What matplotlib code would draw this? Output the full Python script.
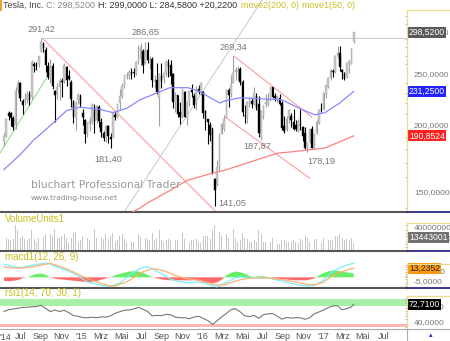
import matplotlib
matplotlib.use('Agg')
import matplotlib.pyplot as plt
import matplotlib.dates as mdates
import matplotlib.transforms as mtrans
from matplotlib.lines import Line2D
from matplotlib.patches import Rectangle
from matplotlib.ticker import FixedLocator, NullFormatter, FuncFormatter
import numpy as np
import pandas as pd

plt.rcParams['font.family'] = ['Liberation Sans', 'DejaVu Sans']

# ---------------- data ----------------
first_week = '2014-05-12'
opens = [187, 191, 210, 210.3, 206, 200, 233, 240, 222, 222, 223, 228, 226, 260, 259, 260,
         275, 283, 276, 258, 246, 258, 231, 230, 236, 242, 242, 257, 247, 241, 222, 206,
         223, 226, 210, 204, 193, 201, 203, 216, 204, 216, 202, 193, 190, 199, 190, 190,
         209, 207, 220, 227, 237, 247, 247, 251, 251, 249, 263, 266, 275, 262, 276, 265,
         266, 241, 243, 225, 247, 245, 251, 262, 259, 249, 221, 227, 211, 208, 230, 206,
         222, 232, 226, 220, 233, 231, 230, 212, 205, 200, 197, 158, 155, 168, 192, 197,
         206, 232, 229, 240, 251, 252, 254, 241, 208, 207, 221, 222, 219, 226, 219, 190,
         208, 219, 219, 225, 235, 226, 224, 224, 220, 199, 196, 206, 208, 202, 200, 196,
         201, 198, 193, 182, 186, 196, 182, 193, 202, 214, 214, 229, 236, 245, 252, 252,
         270, 273, 253, 250, 246, 262, 260, 286.9]
highs = [193, 206, 212.5, 212, 208, 236, 243, 241, 224, 230, 232, 232, 265, 263, 263, 270,
         291.42, 286, 280, 263, 266, 262, 233, 240, 245, 245, 261, 258, 254, 243, 223, 222,
         230, 229, 214, 205, 203, 207, 220, 219, 218, 218, 206, 195, 200, 200, 193, 211,
         212, 219, 234, 240, 248, 252, 254, 256, 256, 264, 283, 285, 278, 286.65, 286, 270,
         268, 248, 262, 250, 262, 251, 265, 266, 265, 250, 231, 228, 221, 235, 232, 222,
         232, 239, 230, 237, 238, 241, 232, 213, 205, 203, 197, 159, 172, 193, 202, 209,
         234, 235, 248, 269.34, 257, 258, 257, 243, 218, 222, 226, 225, 236, 230, 227, 213,
         218, 229, 230, 237, 236, 230, 228, 229, 222, 208, 208, 214, 211, 214, 204, 205,
         214, 199, 198, 186, 197, 199, 193, 204, 214, 220, 230, 238, 246, 255, 255, 271,
         281, 281, 255, 251, 262, 265, 279, 299]
lows = [183, 190, 204.5, 199, 196, 197, 230, 222, 210, 218, 220, 218, 224, 252, 254, 257,
        274, 274, 252, 244, 240, 234, 203, 224, 223, 226, 240, 237, 243, 216, 202, 196,
        219, 216, 200, 185, 190, 195, 201, 193, 202, 198, 190, 187, 186, 185, 181.4, 189,
        204, 206, 213, 225, 235, 244, 244, 244, 246, 248, 260, 258, 250, 260, 262, 255,
        236, 235, 229, 199.3, 235, 240, 247, 246, 239, 215, 212, 207, 201, 206, 207, 200,
        217, 226, 215, 213, 229, 228, 206, 196, 184, 187, 162, 141.05, 154, 164, 192, 195,
        206, 216, 226, 240, 243, 243, 238, 208, 202, 202, 216, 215, 218, 213, 190, 187.87,
        205, 216, 217, 222, 225, 222, 221, 218, 196, 193, 195, 202, 198, 196, 195, 194,
        196, 187, 180, 178.19, 185, 181, 180, 192, 201, 212, 213, 225, 235, 243, 246, 250,
        267, 253, 244, 243, 245, 250, 260, 284.58]
closes = [190.2, 205.2, 207.8, 206.4, 198.4, 231, 240, 224.6, 218, 223.6, 228.3, 223.3, 262, 258.3, 258, 269.7,
          286, 279, 259.3, 246.6, 255.2, 236.9, 227.5, 235.2, 241.7, 241.2, 258.7, 242.8, 244.5, 223.7, 207, 219.3,
          227.8, 219.3, 206.7, 192.7, 201.2, 203.6, 217.4, 203.8, 217.1, 203.3, 193.9, 188.7, 199, 190.6, 187.9, 210.9,
          206.8, 218.4, 226, 236.1, 248, 247.7, 250.8, 249.1, 250.7, 262.5, 268, 280, 259, 274.7, 265.4, 266.2,
          242.5, 242.5, 230.8, 248.5, 241.9, 250.2, 262.3, 256.9, 247.6, 220.7, 227, 210.1, 206.9, 232.4, 207.5, 220,
          231.6, 230.4, 218, 230.5, 230.6, 240, 211, 204.9, 202.6, 191.2, 162.6, 151, 166.6, 190.3, 201, 205.2,
          232.7, 227.8, 237.6, 250.1, 253.7, 253.8, 240.8, 211.5, 207.6, 220.3, 223, 218.9, 229.4, 215.5, 193.2, 212.3,
          216.8, 220.4, 222.3, 234.8, 225.6, 224.9, 225, 219, 197.8, 194.5, 205.4, 213.4, 204, 196.6, 196.5, 202.2,
          199.8, 190.8, 181.3, 185, 196.7, 181.5, 192.2, 202.5, 213.3, 213.7, 229, 237.8, 244.7, 252.9, 251.3, 269.2,
          272.2, 257, 251.6, 243.7, 261.5, 263.2, 278.3, 298.52]
volumes_m = [30, 22, 20, 18, 20, 45, 35, 22, 25, 20, 18, 22, 35, 20, 15, 22,
             35, 25, 28, 25, 28, 25, 38, 22, 22, 25, 28, 22, 12, 22, 30, 32,
             15, 18, 25, 35, 22, 18, 22, 38, 22, 22, 22, 20, 28, 20, 25, 30,
             15, 18, 25, 28, 20, 15, 15, 15, 15, 20, 28, 25, 25, 22, 20, 18,
             30, 18, 22, 35, 18, 15, 18, 20, 18, 30, 18, 18, 18, 30, 20, 18,
             12, 18, 18, 20, 15, 12, 25, 25, 25, 20, 35, 45, 28, 32, 25, 20,
             28, 22, 35, 38, 22, 15, 18, 30, 22, 20, 15, 15, 18, 15, 35, 28,
             15, 15, 12, 15, 22, 12, 10, 10, 18, 18, 15, 15, 15, 18, 15, 12,
             20, 18, 25, 22, 15, 20, 20, 20, 18, 12, 22, 18, 18, 18, 18, 25,
             25, 28, 22, 18, 20, 18, 22, 13.443001]

ma50_dates = ['2014-05-12', '2014-06-30', '2014-08-08', '2014-09-19', '2014-11-18', '2014-12-27',
              '2015-02-26', '2015-04-06', '2015-05-18', '2015-06-27', '2015-09-25', '2015-11-19',
              '2015-12-25', '2016-01-15', '2016-02-23', '2016-03-10', '2016-04-24', '2016-06-24',
              '2016-08-29', '2016-10-31', '2016-12-07', '2017-01-06', '2017-02-20', '2017-04-03']
ma50_values = [165, 176, 187, 197, 213, 216, 214, 211, 215, 223, 235, 235,
               231, 227, 220, 222, 225, 224, 223, 213.5, 209, 211, 220, 231.25]
ma200_dates = ['2015-06-03', '2015-06-27', '2015-07-18', '2015-09-25', '2015-11-19', '2016-02-02',
               '2016-03-10', '2016-08-17', '2016-09-22', '2017-01-06', '2017-04-03']
ma200_values = [137.1, 139.8, 142.6, 150.7, 157.7, 162.5, 164.6, 177.2, 178, 181.1, 190.8524]

# indicator samples every second week (plus last week)
macd_values = [19.3, 17.6, 16.0, 14.5, 14.5, 16.1, 17.7, 18.9, 19.8, 21.2, 19.7, 16.6, 14.0, 11.3, 8.6, 5.9,
               2.2, -2.3, -6.6, -8.4, -10.0, -11.6, -12.8, -13.5, -11.0, -8.5, -3.2, 2.2, 7.2, 12.0, 14.4, 15.5,
               12.3, 8.8, 5.1, 1.5, -2.6, -4.8, -6.2, -7.6, -8.1, -7.4, -6.7, -8.0, -10.2, -12.3, -14.2, -10.8,
               -7.5, -4.1, -0.8, 0.6, -0.1, -0.7, -1.0, -1.0, -1.0, -1.0, -2.5, -4.1, -5.6, -7.1, -8.9, -10.5,
               -11.7, -12.3, -12.8, -11.3, -8.4, -4.1, 2.8, 8.9, 12.2, 15.7, 17.8, 20.0, 20.6]
signal_values = [15.1, 14.6, 14.0, 13.5, 13.7, 14.5, 15.4, 16.6, 18.0, 19.3, 20.5, 18.3, 16.0, 13.6, 11.0, 7.7,
                 4.4, 1.1, -1.4, -4.0, -6.5, -9.0, -11.0, -12.8, -12.7, -10.3, -7.9, -4.7, -0.3, 4.0, 8.2, 10.5,
                 12.8, 11.9, 10.3, 8.5, 5.6, 2.7, 0.7, -1.4, -2.5, -3.6, -4.7, -6.2, -7.9, -9.6, -11.3, -11.3,
                 -10.5, -7.9, -5.3, -3.5, -2.5, -1.5, -1.0, -1.0, -1.0, -1.0, -1.8, -2.6, -3.4, -4.4, -5.7, -7.0,
                 -8.4, -9.8, -10.9, -11.2, -9.4, -7.1, -2.0, 2.3, 5.9, 8.5, 10.7, 12.7, 13.2352]
hist_values = [-5.1, -5.9, -5.1, -4.0, -1.3, 0.0, 2.5, 4.8, 5.6, 3.8, -0.2, -2.1, -2.9, -3.5, -4.3, -4.9,
               -5.6, -6.4, -7.2, -6.5, -5.3, -3.6, -1.7, 0.3, 2.9, 5.0, 6.8, 8.5, 8.8, 8.7, 6.8, 3.5,
               0.4, -1.6, -3.1, -3.8, -4.4, -4.4, -4.4, -4.4, -4.4, -3.8, -3.7, -6.0, -7.8, -8.4, -7.5, -3.5,
               3.2, 6.6, 8.4, 7.5, 5.2, 1.9, 0.5, 1.5, 1.5, 0.6, -0.8, -1.8, -2.5, -3.2, -3.8, -4.4,
               -4.4, -4.4, -3.5, -1.6, 2.9, 6.5, 8.7, 10.1, 9.3, 8.4, 7.3, 6.3, 5.9]
rsi_values = [59.5, 62.5, 63.9, 65.2, 67, 67.2, 68, 68.4, 70.8, 65, 59, 62, 59.2, 61.5, 57, 51.5,
              50.3, 48, 47.5, 48.5, 47.5, 49.2, 48.8, 51, 56, 58.8, 61.6, 62, 64, 67.1, 63.6, 59.3,
              51, 51.9, 51.4, 54, 53, 48.6, 47.7, 47.5, 45.7, 48.8, 50.4, 46.3, 42.3, 35, 41.7, 49,
              55.6, 62.6, 64.5, 58.5, 51, 49.6, 52, 46.5, 53.2, 54.9, 55.4, 50.4, 45, 48.1, 46.8, 47.7,
              47.5, 44.7, 47.6, 55, 58.3, 62.1, 66.4, 69.9, 69.8, 62.5, 64.5, 67.8, 72.71]

trend_red_dates = [('2014-09-04', '2016-02-14'), ('2016-04-06', '2016-11-27'), ('2016-03-10', '2016-11-21')]
trend_red_prices = [(291.42, 137.0), (269.34, 207.1), (207.1, 159.0)]
trend_green_dates = ('2014-04-30', '2014-09-19')
trend_green_prices = (177.2, 246.1)
trend_gray_dates = ('2015-05-09', '2016-06-30')
trend_gray_prices = (137.0, 343.0)
resistance_date = '2014-09-04'
resistance_price = 291.42

peak_labels = [291.42, 286.65, 269.34]
trough_labels = [181.40, 141.05, 187.87, 178.19]

month_ticks = ['2014-07-01', '2014-09-01', '2014-11-01', '2015-01-01', '2015-03-01', '2015-05-01',
               '2015-07-01', '2015-09-01', '2015-11-01', '2016-01-01', '2016-03-01', '2016-05-01',
               '2016-07-01', '2016-09-01', '2016-11-01', '2017-01-01', '2017-03-01', '2017-05-01',
               '2017-07-01']
month_labels = ['Jul', 'Sep', 'Nov', "'15", 'Mrz', 'Mai', 'Jul', 'Sep', 'Nov', "'16", 'Mrz', 'Mai',
                'Jul', 'Sep', 'Nov', "'17", 'Mrz', 'Mai', 'Jul']

title_parts = [('Tesla, Inc.', '#444444'), ('C: 298,5200', '#888888'),
               ('H: 299,0000 L: 284,5800 +20,2200', '#333333'),
               ('move2(200, 0)', '#c8c020'), ('move1(50, 0)', '#c8c020')]

# ---------------- figure ----------------
W, H = 450, 341
fig = plt.figure(figsize=(W / 100, H / 100), dpi=100)
fig.patch.set_facecolor('white')


def ax_px(x0, y0, x1, y1, **kw):
    return fig.add_axes([x0 / W, 1 - y1 / H, (x1 - x0) / W, (y1 - y0) / H], **kw)


def fline(x0, y0, x1, y1, **kw):
    fig.add_artist(Line2D([x0 / W, x1 / W], [1 - y0 / H, 1 - y1 / H], transform=fig.transFigure, **kw))


ax = ax_px(0, 0, 407, 212)
axv = ax_px(0, 213, 407, 251, sharex=ax)
axm = ax_px(0, 252, 407, 288, sharex=ax)
axr = ax_px(0, 289, 407, 329, sharex=ax)

weeks = pd.date_range(first_week, periods=len(closes), freq='7D')
xd = mdates.date2num(weeks)
o = np.array(opens, float); h = np.array(highs, float)
l = np.array(lows, float); c = np.array(closes, float)
ind_x = np.concatenate([xd[::2], xd[-1:]])

x_left = mdates.date2num(pd.Timestamp('2014-04-30'))
x_right = mdates.date2num(pd.Timestamp('2017-09-11'))

YEL = '#eedc8a'
GRAYTXT = '#777777'
OLIVE = '#c8c020'
TICK_FS = 6.0
TICK_PAD = 5

# ---- main price panel ----
ax.set_yscale('log')
ax.set_ylim(137.37, 343.2)
ax.set_xlim(x_left, x_right)

up = c >= o
dn = ~up
ax.vlines(xd[up], l[up], h[up], color='#a0a0a0', lw=0.8, zorder=3)
ax.vlines(xd[dn], l[dn], h[dn], color='#000000', lw=0.8, zorder=3)
ax.bar(xd[up], np.abs(c - o)[up] + 0.3, bottom=np.minimum(o, c)[up], width=4.8,
       color='#c8c8c8', edgecolor='#a8a8a8', lw=0.3, zorder=4)
ax.bar(xd[dn], np.abs(c - o)[dn] + 0.3, bottom=np.minimum(o, c)[dn], width=4.8,
       color='#000000', edgecolor='#000000', lw=0.3, zorder=4)

ax.plot(mdates.date2num(pd.to_datetime(ma50_dates)), ma50_values, color='#8888ff', lw=0.9, zorder=5)
ax.plot(mdates.date2num(pd.to_datetime(ma200_dates)), ma200_values, color='#ff8080', lw=0.9, zorder=5)

for (d0, d1), (p0, p1) in zip(trend_red_dates, trend_red_prices):
    ax.plot(mdates.date2num(pd.to_datetime([d0, d1])), [p0, p1], color='#ff9898', lw=0.75, zorder=2)
ax.plot(mdates.date2num(pd.to_datetime(list(trend_green_dates))), trend_green_prices,
        color='#88dd88', lw=0.75, zorder=2)
ax.plot(mdates.date2num(pd.to_datetime(list(trend_gray_dates))), trend_gray_prices,
        color='#cccccc', lw=0.75, zorder=2)
ax.plot([mdates.date2num(pd.Timestamp(resistance_date)), x_right], [resistance_price, resistance_price],
        color='#cccccc', lw=0.75, zorder=2)

fmt = lambda v: f"{v:.2f}".replace('.', ',')
for p in peak_labels:
    i = int(np.argmin(np.abs(h - p)))
    ax.annotate(fmt(p), (xd[i], h[i]), xytext=(0, 9), textcoords='offset pixels',
                ha='center', va='center', fontsize=6.6, color=GRAYTXT, zorder=6)
trough_off = {181.40: (-2, -12), 141.05: (18, 3), 187.87: (-4, -7), 178.19: (14, -10)}
for p in trough_labels:
    i = int(np.argmin(np.abs(l - p)))
    dx, dy = trough_off[p]
    ax.annotate(fmt(p), (xd[i], l[i]), xytext=(dx, dy), textcoords='offset pixels',
                ha='center', va='center', fontsize=6.6, color=GRAYTXT, zorder=6)

# right axis of price panel
ax.yaxis.set_ticks_position('right')
ax.yaxis.set_major_locator(FixedLocator([150, 200, 250, 300]))
ax.yaxis.set_major_formatter(FuncFormatter(lambda v, p: f"{v:.4f}".replace('.', ',')))
ax.yaxis.set_minor_locator(FixedLocator(np.arange(140, 330, 10)))
ax.yaxis.set_minor_formatter(NullFormatter())
ax.tick_params(axis='y', which='major', length=0, pad=TICK_PAD, labelsize=TICK_FS, labelcolor=GRAYTXT)
ax.tick_params(axis='y', which='minor', length=1.5, width=0.6, color='#aaaaaa', direction='in')
ax.tick_params(axis='x', which='both', bottom=False, labelbottom=False)


def style_panel(a):
    for s in ['top', 'left', 'right']:
        a.spines[s].set_visible(False)
    a.spines['bottom'].set_color('#555555')
    a.spines['bottom'].set_linewidth(1.5)
    a.set_facecolor('none')


style_panel(ax)


def box(a, val, text, fc, tc, dy=0):
    a.annotate(text, xy=(1.0, val), xycoords=mtrans.blended_transform_factory(a.transAxes, a.transData),
               xytext=(2, dy), textcoords='offset pixels', ha='left', va='center', fontsize=6.2,
               color=tc, annotation_clip=False, zorder=10,
               bbox=dict(boxstyle='square,pad=0.12', fc=fc, ec='none'))


box(ax, closes[-1], '298,5200', '#5a5a5a', 'white')
box(ax, ma50_values[-1], '231,2500', '#2222ff', 'white')
box(ax, ma200_values[-1], '190,8524', '#ff2020', 'white')

# ---- volume panel ----
axv.bar(xd, np.array(volumes_m) * 1e6, width=2.6, bottom=0, color='#c8c8c8', zorder=3)
axv.set_ylim(-1.8e6, 66.4e6)
axv.yaxis.set_ticks_position('right')
axv.yaxis.set_major_locator(FixedLocator([20e6, 40e6]))
axv.yaxis.set_major_formatter(FuncFormatter(lambda v, p: f"{int(round(v))}"))
axv.yaxis.set_minor_locator(FixedLocator(np.arange(0, 50e6, 5e6)))
axv.tick_params(axis='y', which='major', length=0, pad=TICK_PAD, labelsize=TICK_FS, labelcolor=GRAYTXT)
axv.tick_params(axis='y', which='minor', length=1.5, width=0.6, color='#aaaaaa', direction='in')
axv.tick_params(axis='x', which='both', bottom=False, labelbottom=False)
style_panel(axv)
box(axv, volumes_m[-1] * 1e6, '13443001', '#707070', 'white', dy=5)

# ---- MACD panel ----
axm.fill_between(ind_x, 0, hist_values, where=np.array(hist_values) >= 0, interpolate=True,
                 color='#66ee66', lw=0, zorder=2)
axm.fill_between(ind_x, 0, hist_values, where=np.array(hist_values) <= 0, interpolate=True,
                 color='#ff6a6a', lw=0, zorder=2)
axm.plot(ind_x, macd_values, color='#77eeff', lw=0.9, zorder=3)
axm.plot(ind_x, signal_values, color='#ffb070', lw=0.9, zorder=3)
axm.set_ylim(-15.7, 37.2)
axm.yaxis.set_ticks_position('right')
axm.yaxis.set_major_locator(FixedLocator([-5, 10]))
axm.yaxis.set_major_formatter(FuncFormatter(lambda v, p: f"{v:.4f}".replace('.', ',')))
axm.yaxis.set_minor_locator(FixedLocator(np.arange(-15, 20, 2.5)))
axm.tick_params(axis='y', which='major', length=0, pad=TICK_PAD, labelsize=TICK_FS, labelcolor=GRAYTXT)
axm.tick_params(axis='y', which='minor', length=1.5, width=0.6, color='#aaaaaa', direction='in')
axm.tick_params(axis='x', which='both', bottom=False, labelbottom=False)
style_panel(axm)
box(axm, signal_values[-1], '13,2352', '#ff9a10', '#222222')

# ---- RSI panel ----
axr.axhspan(69.5, 82.7, color='#a8f0a8', lw=0, zorder=1)
axr.axhspan(30.3, 35.9, color='#ffb8b8', lw=0, zorder=1)
axr.plot(ind_x, rsi_values, color='#777777', lw=0.8, zorder=3)
axr.set_ylim(26.5, 101.3)
axr.yaxis.set_ticks_position('right')
axr.yaxis.set_major_locator(FixedLocator([40, 70]))
axr.yaxis.set_major_formatter(FuncFormatter(lambda v, p: f"{v:.4f}".replace('.', ',')))
axr.yaxis.set_minor_locator(FixedLocator(np.arange(30, 90, 5)))
axr.tick_params(axis='y', which='major', length=0, pad=TICK_PAD, labelsize=TICK_FS, labelcolor=GRAYTXT)
axr.tick_params(axis='y', which='minor', length=1.5, width=0.6, color='#aaaaaa', direction='in')
for s in ['top', 'left', 'right']:
    axr.spines[s].set_visible(False)
axr.spines['bottom'].set_color('#aaaaaa')
axr.spines['bottom'].set_linewidth(0.8)
axr.set_facecolor('none')
box(axr, rsi_values[-1], '72,7100', '#000000', 'white')
axr.set_xticks(mdates.date2num(pd.to_datetime(month_ticks)))
axr.set_xticklabels(month_labels)
axr.tick_params(axis='x', which='major', length=0, pad=2.5, labelsize=6.5, labelcolor='#555555')
axr.tick_params(axis='x', which='minor', bottom=False)
axr.text(0.0, -0.2, "'14", transform=axr.transAxes, ha='left', va='center', fontsize=6.5, color='#555555')
axr.set_xlim(x_left, x_right)

# ---- decorations: right-axis frames ----
for top, bottom in [(10, 212), (223, 251), (264, 288), (296, 329)]:
    fline(406.5, top, 406.5, bottom, color=YEL, lw=0.9)
    fline(406.5, top, 450, top, color=YEL, lw=0.9)
for yb in [212, 251, 288]:
    fline(407, yb, 450, yb, color='#2a2a80', lw=1.3)
fline(407, 329, 450, 329, color='#aaaaaa', lw=0.8)
fline(407, 329, 407, 341, color='#aaaaaa', lw=0.8)
fig.text(431 / W, 1 - 335 / H, '\u25b4', color='#2222cc', fontsize=5, ha='center', va='center',
         family='DejaVu Sans')
fig.add_artist(Rectangle((0, 1 - 11 / H), 2 / W, 11 / H, transform=fig.transFigure,
                         color='#f0a030', lw=0))

# ---- title (chained segments) ----
renderer = fig.canvas.get_renderer()
ty = 1 - 5.5 / H
xpos = 3
for txt, col in title_parts:
    t = fig.text(xpos / W, ty, txt, fontsize=6.5, color=col, va='center')
    xpos += t.get_window_extent(renderer).width + 3

# panel titles
fig.text(5 / W, 1 - 218.5 / H, 'VolumeUnits1', fontsize=7, color=OLIVE, va='center')
fig.text(5 / W, 1 - 257.5 / H, 'macd1(12, 26, 9)', fontsize=7, color=OLIVE, va='center')
fig.text(5 / W, 1 - 293.5 / H, 'rsi1(14, 70, 30, 1)', fontsize=7, color=OLIVE, va='center')

# watermark
fig.text(31 / W, 1 - 185 / H, 'bluchart Professional Trader', fontsize=7.7, color='#999999',
         va='center', family='DejaVu Sans')
fig.text(31 / W, 1 - 198 / H, 'www.trading-house.net', fontsize=5.4, color='#888888',
         va='center', family='DejaVu Sans')

fig.savefig('out.png', dpi=100, facecolor='white')
